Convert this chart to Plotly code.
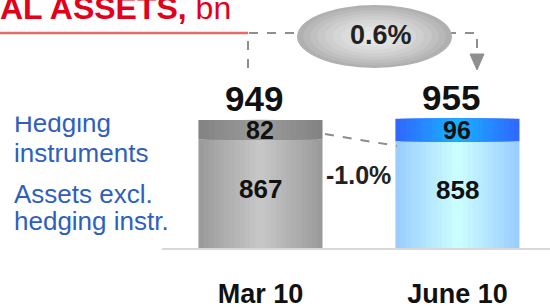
import plotly.graph_objects as go

# ---- data ----
categories = ["Mar 10", "June 10"]
assets_excl = [867, 858]
hedging = [82, 96]
totals = [949, 955]
total_change = "0.6%"
excl_change = "-1.0%"
series_names = ["Assets excl. hedging instr.", "Hedging instruments"]

# ---- layout geometry (pixels) ----
W, H = 550, 307
L, T, B = 162, 0, 59
PW, PH = W - L, H - T - B
Y0, KPX = 404, 0.235          # truncated value axis: bottom value, px per unit
Y1 = Y0 + PH / KPX
XU = 196.95                   # px per category
X1 = -0.5 + PW / XU
BAR_W = 0.63

def px(x):
    return (x - L) / PW

def py(y):
    return (T + PH - y) / PH

def mix(c1, c2, t):
    a = [int(c1[i:i + 2], 16) for i in (1, 3, 5)]
    b = [int(c2[i:i + 2], 16) for i in (1, 3, 5)]
    return "#" + "".join(f"{round(x + (y - x) * t):02x}" for x, y in zip(a, b))

FONT = "Liberation Sans, Arial, sans-serif"
xs = list(range(len(categories)))

# (edge colour, centre colour) per category
excl_grad = [("#999999", "#c8c8c8"), ("#99ccff", "#ccffff")]
hedge_grad = [("#828282", "#9c9c9c"), ("#3066ff", "#18b2ff")]

fig = go.Figure()
N = 12
for series, base, vals, grad in [(series_names[0], [0, 0], assets_excl, excl_grad),
                                 (series_names[1], assets_excl, hedging, hedge_grad)]:
    for k in range(N):
        s = 1 - k / N
        t = max(0.0, 1 - (s - 0.5 / N))
        cols = [mix(e, c, t) for e, c in grad]
        fig.add_trace(go.Bar(x=xs, y=vals, base=base, name=series,
                             marker=dict(color=cols, line=dict(width=0)),
                             width=BAR_W * s, hoverinfo="skip", showlegend=False))

ann = []
# totals above bars
for i, t in enumerate(totals):
    ann.append(dict(x=i, y=t, xref="x", yref="y", text=f"<b>{t}</b>",
                    showarrow=False, yanchor="bottom", xshift=-6, yshift=0,
                    font=dict(family=FONT, size=35, color="#111")))
# segment labels
for i, (e, h) in enumerate(zip(assets_excl, hedging)):
    ann.append(dict(x=i, y=e + h / 2, xref="x", yref="y", text=f"<b>{h}</b>",
                    showarrow=False, yanchor="middle", yshift=0,
                    font=dict(family=FONT, size=25, color="#111")))
    ann.append(dict(x=i, y=(Y0 + e) / 2, xref="x", yref="y", text=f"<b>{e}</b>",
                    showarrow=False, yanchor="middle", yshift=5,
                    font=dict(family=FONT, size=26, color="#111")))
# change labels
ann.append(dict(x=px(358), y=py(175), xref="paper", yref="paper",
                text=f"<b>{excl_change}</b>", showarrow=False,
                xanchor="center", yanchor="middle",
                font=dict(family=FONT, size=25, color="#222")))
ann.append(dict(x=px(381), y=py(35), xref="paper", yref="paper",
                text=f"<b>{total_change}</b>", showarrow=False,
                xanchor="center", yanchor="middle",
                font=dict(family=FONT, size=27, color="#222")))
# legend-like labels on the left
blue = "#2f5fbd"
left_lines = [("Hedging", 123), ("instruments", 153),
              ("Assets excl.", 194), ("hedging instr.", 221)]
for txt, yc in left_lines:
    ann.append(dict(x=px(13), y=py(yc), xref="paper", yref="paper",
                    text=txt, showarrow=False, xanchor="left", yanchor="middle",
                    borderpad=0,
                    font=dict(family=FONT, size=26, color=blue)))
# white band that hides the top of the first label (as in the source slide)
ann.append(dict(x=px(5), y=py(117), xref="paper", yref="paper", text="",
                showarrow=False, xanchor="left", yanchor="bottom",
                width=150, height=22, bgcolor="white", borderpad=0))
# title
ann.append(dict(x=px(-1), y=py(8), xref="paper", yref="paper",
                text="<b>AL ASSETS,</b> bn", showarrow=False,
                xanchor="left", yanchor="middle", borderpad=0,
                font=dict(family=FONT, size=32, color="#e2001a")))

shapes = []
# red rule under title
shapes.append(dict(type="line", xref="paper", yref="paper",
                   x0=px(0), x1=px(248), y0=py(33), y1=py(33),
                   line=dict(color="#e96a6a", width=2.5)))
# dashed connectors for total change
dash_col = "#8f8f8f"
shapes.append(dict(type="path", xref="paper", yref="paper",
                   path=f"M {px(248)},{py(68)} L {px(248)},{py(33)} L {px(477)},{py(33)} L {px(477)},{py(54)}",
                   line=dict(color=dash_col, width=2, dash="dash")))
shapes.append(dict(type="path", xref="paper", yref="paper",
                   path=f"M {px(470)},{py(54)} L {px(484)},{py(54)} L {px(477)},{py(70)} Z",
                   fillcolor=dash_col, line=dict(color=dash_col, width=1)))
# ellipse with pseudo radial shading
cx, cy, rx, ry = 374.5, 36.5, 77.5, 31.5
steps = [(1.0, "#b0b0b0"), (0.92, "#b8b8b8"), (0.83, "#c0c0c0"), (0.74, "#c8c8c8"),
         (0.64, "#cfcfcf"), (0.54, "#d6d6d6"), (0.43, "#dcdcdc"), (0.32, "#e2e2e2"),
         (0.2, "#e7e7e7")]
for s, c in steps:
    shapes.append(dict(type="circle", xref="paper", yref="paper",
                       x0=px(cx - rx * s), x1=px(cx + rx * s),
                       y0=py(cy + ry * s), y1=py(cy - ry * s),
                       fillcolor=c, line=dict(width=0)))
# dashed connector between excl. segments
shapes.append(dict(type="line", xref="paper", yref="paper",
                   x0=px(325), y0=py(134), x1=px(397), y1=py(146),
                   line=dict(color="#8c8c8c", width=2, dash="dash")))

fig.update_layout(
    width=W, height=H, barmode="overlay", showlegend=False,
    margin=dict(l=L, r=0, t=T, b=B, pad=0, autoexpand=False),
    paper_bgcolor="white", plot_bgcolor="white",
    annotations=ann, shapes=shapes,
    xaxis=dict(range=[-0.5, X1], tickvals=xs, ticktext=categories,
               showgrid=False, zeroline=False, showline=True,
               linecolor="#d9d9d9", linewidth=2, ticks="",
               ticklabelstandoff=21,
               tickfont=dict(family=FONT, size=27, color="#111", weight="bold")),
    yaxis=dict(range=[Y0, Y1], visible=False, showgrid=False, zeroline=False),
)

fig.write_html("out.html", config={"displayModeBar": False},
               post_script="document.body.style.margin='0px';")
